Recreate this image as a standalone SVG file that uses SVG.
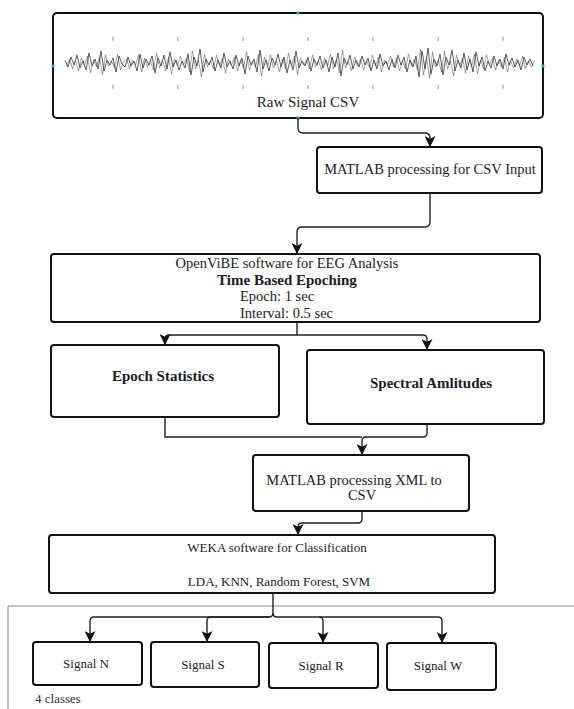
<svg xmlns="http://www.w3.org/2000/svg" width="574" height="709" viewBox="0 0 574 709">
<style>
.box{fill:#fff;stroke:#111;stroke-width:2}
.t{font-family:"Liberation Serif","Times New Roman",serif;font-size:14.5px;fill:#1c1c28;text-anchor:middle}
.b{font-weight:bold;font-size:15px}
.s{font-size:13px}
.w{font-size:13px}
.c{fill:none;stroke:#222;stroke-width:1.4}
.dot{fill:#2a9fd8}
</style>
<defs>
<marker id="ah" markerUnits="userSpaceOnUse" markerWidth="11" markerHeight="11" viewBox="0 0 10 10" refX="10" refY="5" orient="auto">
<path d="M0,0 L10,5 L0,10 L2.5,5 z" fill="#111"/>
</marker>
</defs>
<rect width="574" height="709" fill="#fff"/>
<path d="M574,606 H8 V709" fill="none" stroke="#8a8a8a" stroke-width="1"/>

<g id="raw">
<rect class="box" x="53" y="13" width="490" height="105" rx="4"/>
<g stroke="#888" stroke-width="1">
<path d="M113,37 v4 M178,37 v4 M243,37 v4 M308,37 v4 M373,37 v4 M438,37 v4 M503,37 v4 M113,85 v4 M178,85 v4 M243,85 v4 M308,85 v4 M373,85 v4 M438,85 v4 M503,85 v4"/>
</g>
<polyline id="wave" fill="none" stroke="#4a4a4a" stroke-width="0.9" stroke-linejoin="round" points="65,60 68,67 71,57 74,65 77,55 80,68 83,61 86,70 89,53 92,66 95,59 98,69 101,51 104,71 107,60 110,65 113,58 116,72 119,56 122,64 125,67 128,57 131,66 134,61 137,71 140,54 143,68 146,59 149,65 152,56 155,73 158,58 161,66 164,55 167,69 170,52 173,67 176,60 179,70 182,61 185,68 188,54 191,75 194,57 197,66 200,49 203,72 206,59 209,65 212,57 215,71 218,60 221,68 224,53 227,67 230,61 233,69 236,55 239,66 242,58 245,74 248,56 251,65 254,59 257,72 260,50 263,69 266,60 269,71 272,58 275,65 278,54 281,67 284,57 287,73 290,60 293,70 296,51 299,68 302,61 305,66 308,57 311,71 314,59 317,65 320,56 323,68 326,60 329,72 332,57 335,67 338,53 341,76 344,58 347,65 350,55 353,69 356,60 359,67 362,56 365,65 368,58 371,71 374,60 377,69 380,54 383,66 386,61 389,70 392,59 395,68 398,55 401,65 404,57 407,72 410,60 413,67 416,56 419,77 422,51 425,69 428,48 431,74 434,59 437,66 440,54 443,75 446,57 449,65 452,50 455,71 458,60 461,68 464,53 467,70 470,59 473,72 476,52 479,66 482,57 485,71 488,61 491,68 494,56 497,66 500,59 503,69 506,54 509,65 512,58 515,67 518,60 521,70 524,57 527,65 530,59 533,66"/>
<use href="#wave" transform="translate(1.5,126) scale(1,-1)" opacity="0.55"/>
<text class="t" x="308" y="107" font-size="15" style="font-size:15px">Raw Signal CSV</text>
<rect class="dot" x="296.5" y="11.5" width="3" height="3"/>
<rect class="dot" x="51.5" y="64.5" width="3" height="3"/>
<rect class="dot" x="541.5" y="64.5" width="3" height="3"/>
<rect class="dot" x="296.5" y="116.5" width="3" height="3"/>
</g>

<g id="matlab1">
<rect class="box" x="317" y="147" width="225" height="46" rx="3"/>
<text class="t" x="430" y="174">MATLAB processing for CSV Input</text>
</g>

<g id="openvibe">
<rect class="box" x="51" y="254" width="489" height="68" rx="3"/>
<text class="t" x="287" y="268">OpenViBE software for EEG Analysis</text>
<text class="t b" x="287" y="285">Time Based Epoching</text>
<text class="t" x="240" y="301" style="text-anchor:start">Epoch: 1 sec</text>
<text class="t" x="240" y="318" style="text-anchor:start">Interval: 0.5 sec</text>
</g>

<g id="epochstats">
<rect class="box" x="51" y="345" width="228" height="72" rx="3"/>
<text class="t b" x="163" y="381">Epoch Statistics</text>
</g>

<g id="spectral">
<rect class="box" x="307" y="350" width="237" height="74" rx="3"/>
<text class="t b" x="431" y="388">Spectral Amlitudes</text>
</g>

<g id="matlab2">
<rect class="box" x="253" y="455" width="216" height="56" rx="3"/>
<text class="t" x="354" y="485">MATLAB processing XML to</text>
<text class="t" x="362" y="500">CSV</text>
</g>

<g id="weka">
<rect class="box" x="49" y="535" width="446" height="58" rx="3"/>
<text class="t w" x="277" y="552">WEKA software for Classification</text>
<text class="t w" x="279" y="586">LDA, KNN, Random Forest, SVM</text>
</g>

<g id="signalN">
<rect class="box" x="33" y="642" width="109" height="43" rx="3"/>
<text class="t s" x="86" y="668">Signal N</text>
</g>
<g id="signalS">
<rect class="box" x="151" y="642" width="108" height="45" rx="3"/>
<text class="t s" x="203" y="669">Signal S</text>
</g>
<g id="signalR">
<rect class="box" x="269" y="643" width="109" height="45" rx="3"/>
<text class="t s" x="321" y="670">Signal R</text>
</g>
<g id="signalW">
<rect class="box" x="387" y="643" width="109" height="47" rx="3"/>
<text class="t s" x="438" y="670">Signal W</text>
</g>

<text class="t s" x="35" y="703" style="text-anchor:start;fill:#333">4 classes</text>

<g id="connectors">
<path class="c" marker-end="url(#ah)" d="M298,118 V128 Q298,133 303,133 H425 Q430,133 430,138 V147"/>
<path class="c" marker-end="url(#ah)" d="M430,193 V222 Q430,227 425,227 H302 Q297,227 297,232 V254"/>
<path class="c" marker-end="url(#ah)" d="M297,322 V335 H169 Q165,335 165,339 V345"/>
<path class="c" marker-end="url(#ah)" d="M297,335 H423 Q427,335 427,339 V350"/>
<path class="c" d="M165,417 V437 H362"/>
<path class="c" marker-end="url(#ah)" d="M427,424 V433 Q427,437 423,437 H366 Q362,437 362,441 V455"/>
<path class="c" marker-end="url(#ah)" d="M362,511 V519 Q362,523 358,523 H302 Q298,523 298,527 V535"/>
<path class="c" marker-end="url(#ah)" d="M273,593 V613 Q273,617 269,617 H94 Q90,617 90,621 V642"/>
<path class="c" marker-end="url(#ah)" d="M269,617 H211 Q207,617 207,621 V642"/>
<path class="c" marker-end="url(#ah)" d="M273,613 Q273,617 277,617 H319 Q323,617 323,621 V643"/>
<path class="c" marker-end="url(#ah)" d="M319,617 H438 Q442,617 442,621 V643"/>
</g>
</svg>
